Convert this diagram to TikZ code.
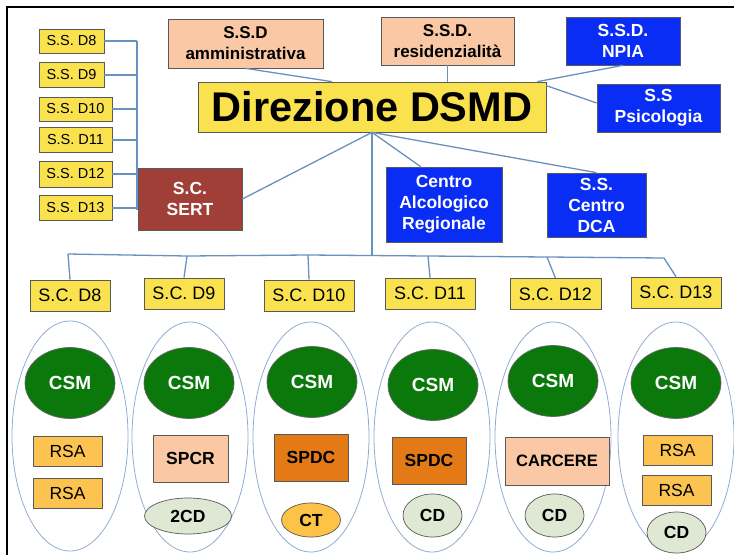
\documentclass[tikz,border=0pt]{standalone}
\usepackage{fontspec}
\setmainfont{Liberation Sans}
\usetikzlibrary{shapes.geometric,calc}
\definecolor{ylw}{RGB}{250,226,78}
\definecolor{peach}{RGB}{250,200,165}
\definecolor{blu}{RGB}{10,45,245}
\definecolor{sertc}{RGB}{160,62,56}
\definecolor{grn}{RGB}{11,120,11}
\definecolor{rsac}{RGB}{252,195,80}
\definecolor{spdcc}{RGB}{228,122,22}
\definecolor{cdc}{RGB}{222,232,210}
\definecolor{ctc}{RGB}{252,195,70}
\definecolor{lnc}{RGB}{105,145,190}
\definecolor{elc}{RGB}{145,172,210}
\begin{document}
\begin{tikzpicture}[x=1pt,y=-1pt,
  bx/.style={rectangle,draw=black!65,line width=0.7pt,inner sep=0pt,align=center},
  ybx/.style={bx,fill=ylw},
  pbx/.style={bx,fill=peach,font=\fontsize{17}{21}\selectfont\bfseries},
  bbx/.style={bx,fill=blu,text=white,font=\fontsize{17.5}{21}\selectfont\bfseries},
  ssbox/.style={ybx,font=\fontsize{14.5}{16}\selectfont},
  scbox/.style={ybx,minimum height=31pt,font=\fontsize{18}{20}\selectfont},
  col/.style={ellipse,draw=elc,line width=0.8pt,minimum width=116pt,minimum height=230pt,inner sep=0pt},
  csm/.style={ellipse,draw=black!60,line width=0.7pt,fill=grn,text=white,minimum width=90pt,minimum height=71pt,inner sep=0pt,font=\fontsize{19}{20}\selectfont\bfseries},
  rsa/.style={bx,fill=rsac,minimum width=69pt,minimum height=30pt,font=\fontsize{17.5}{20}\selectfont},
  sm/.style={ellipse,draw=black!65,line width=0.7pt,inner sep=0pt,font=\fontsize{17.5}{20}\selectfont\bfseries},
  ln/.style={draw=lnc,line width=1.3pt}]
\useasboundingbox (0,0) rectangle (734,555);
\draw[line width=1.2pt] (7,555) -- (7,7) -- (734,7);

% column ellipses
\node[col] (e1) at (70,436) {};
\node[col] (e2) at (190,437) {};
\node[col] (e3) at (311,437) {};
\node[col] (e4) at (432,437) {};
\node[col] (e5) at (553,437) {};
\node[col] (e6) at (676,437) {};

% top structure
\node[ssbox,minimum width=65pt,minimum height=24pt] (ssd8) at (71.5,41) {S.S. D8};
\node[ssbox,minimum width=65pt,minimum height=25pt] (ssd9) at (71.5,75) {S.S. D9};
\node[ssbox,minimum width=73pt,minimum height=24pt] (ssd10) at (75.5,109) {S.S. D10};
\node[ssbox,minimum width=73pt,minimum height=25pt] (ssd11) at (75.5,140) {S.S. D11};
\node[ssbox,minimum width=73pt,minimum height=26pt] (ssd12) at (75.5,174) {S.S. D12};
\node[ssbox,minimum width=73pt,minimum height=25pt] (ssd13) at (75.5,208) {S.S. D13};
\coordinate (sstop) at (137,41);
\coordinate (ssbot) at (137,210);

\node[bx,fill=sertc,text=white,minimum width=104pt,minimum height=62pt,font=\fontsize{17.5}{21}\selectfont\bfseries] (sert) at (190,199) {S.C.\\SERT};
\node[pbx,minimum width=155pt,minimum height=49pt] (amm) at (245.5,43.5) {S.S.D\\amministrativa};
\node[pbx,minimum width=133pt,minimum height=48pt] (res) at (447.5,41) {S.S.D.\\residenzialità};
\node[bbx,minimum width=114pt,minimum height=48pt] (npia) at (623,41) {S.S.D.\\NPIA};
\node[bbx,minimum width=123pt,minimum height=48pt] (psi) at (658.5,108) {S.S\\Psicologia};
\node[ybx,minimum width=348pt,minimum height=50pt,font=\fontsize{41.5}{44}\selectfont\bfseries] (dir) at (372,107) {Direzione DSMD};
\node[bbx,minimum width=116pt,minimum height=75pt] (car) at (444,204.5) {Centro\\Alcologico\\Regionale};
\node[bbx,minimum width=99pt,minimum height=64pt] (dca) at (596.5,205) {S.S.\\Centro\\DCA};

% S.C. row
\node[scbox,minimum width=80pt] (scd8) at (70,295.5) {S.C. D8};
\node[scbox,minimum width=80pt] (scd9) at (184,293.5) {S.C. D9};
\node[scbox,minimum width=90pt] (scd10) at (309,295.5) {S.C. D10};
\node[scbox,minimum width=90pt] (scd11) at (430,293.5) {S.C. D11};
\node[scbox,minimum width=91pt] (scd12) at (555.5,294) {S.C. D12};
\node[scbox,minimum width=90pt] (scd13) at (676,292.5) {S.C. D13};

% CSM
\node[csm] (csm1) at (70,383) {CSM};
\node[csm] (csm2) at (189,383) {CSM};
\node[csm] (csm3) at (312,382) {CSM};
\node[csm] (csm4) at (433,385) {CSM};
\node[csm] (csm5) at (553,381) {CSM};
\node[csm] (csm6) at (676,383) {CSM};

% column contents
\node[rsa] (rsa1a) at (67.5,451) {RSA};
\node[rsa] (rsa1b) at (67.5,493) {RSA};
\node[bx,fill=peach,minimum width=75pt,minimum height=47pt,font=\fontsize{17.5}{20}\selectfont\bfseries] (spcr) at (190.5,458.5) {SPCR};
\node[sm,fill=cdc,minimum width=87pt,minimum height=36pt] (cd2) at (188,516) {2CD};
\node[bx,fill=spdcc,minimum width=74pt,minimum height=47pt,font=\fontsize{17.5}{20}\selectfont\bfseries] (spdc3) at (311,457.5) {SPDC};
\node[sm,fill=ctc,minimum width=59pt,minimum height=34pt] (ct) at (311,520) {CT};
\node[bx,fill=spdcc,minimum width=74pt,minimum height=47pt,font=\fontsize{17.5}{20}\selectfont\bfseries] (spdc4) at (429,460.5) {SPDC};
\node[sm,fill=cdc,minimum width=59pt,minimum height=43pt] (cd4) at (432.5,515.5) {CD};
\node[bx,fill=peach,minimum width=104pt,minimum height=48pt,font=\fontsize{16.5}{20}\selectfont\bfseries] (carc) at (557,461) {CARCERE};
\node[sm,fill=cdc,minimum width=59pt,minimum height=43pt] (cd5) at (554.5,515.5) {CD};
\node[rsa] (rsa6a) at (677.5,450) {RSA};
\node[rsa] (rsa6b) at (676.5,490) {RSA};
\node[sm,fill=cdc,minimum width=59pt,minimum height=41pt] (cd6) at (676.5,532.5) {CD};

% connectors: S.S. boxes
\draw[ln] (sstop) -- (ssbot);
\foreach \n in {ssd8,ssd9,ssd10,ssd11,ssd12,ssd13}
  \draw[ln] (\n.east) -- (\n.east -| sstop);

% connectors to Direzione
\draw[ln] (amm.south) -- ($(dir.north west)!0.385!(dir.north east)$);
\draw[ln] (res.south) -- (res.south |- dir.north);
\draw[ln] (npia.south) -- ($(dir.north east)+(-9,0)$);
\draw[ln] ($(dir.north east)+(0,4)$) -- ($(psi.west)+(0,-5)$);
\draw[ln] (dir.south) -- (sert.east);
\draw[ln] (dir.south) -- ($(car.north west)!0.3!(car.north east)$);
\draw[ln] (dir.south) -- (dca.north);

% bus
\coordinate (b8) at (68,254);
\coordinate (b9) at (187,256);
\coordinate (b10) at (308,255);
\coordinate (b11) at (428,256);
\coordinate (b12) at (547,257);
\coordinate (b13) at (664,258);
\draw[ln] (dir.south) -- (dir.south |- b10);
\draw[ln] (b8) -- (b9) -- (b10) -- (b11) -- (b12) -- (b13);
\draw[ln] (b8) -- (scd8.north);
\draw[ln] (b9) -- (scd9.north);
\draw[ln] (b10) -- (scd10.north);
\draw[ln] (b11) -- (scd11.north);
\draw[ln] (b12) -- (scd12.north);
\draw[ln] (b13) -- (scd13.north);
\end{tikzpicture}
\end{document}
